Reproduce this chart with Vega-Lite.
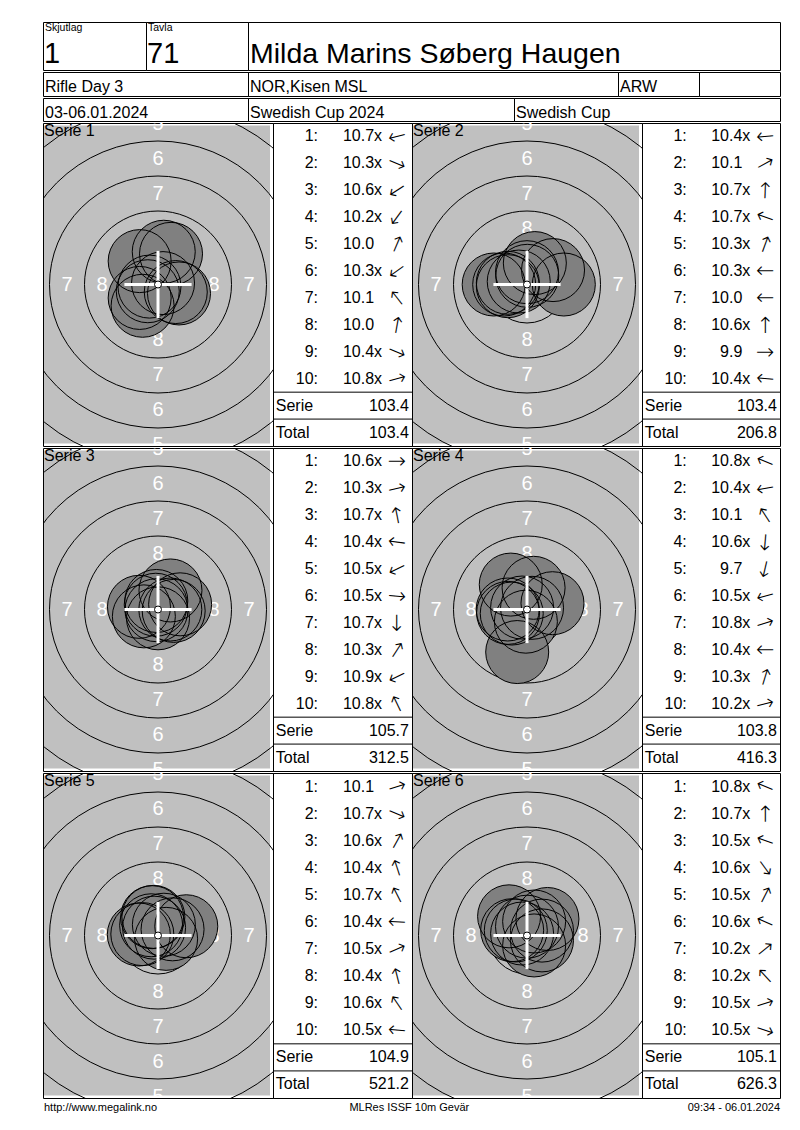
{
  "$schema": "https://vega.github.io/schema/vega-lite/v6.json",
  "description": "MLRes ISSF 10m air rifle result card: six series of ten shots with targets and score lists.",
  "background": "white",
  "padding": {"left": 42, "top": 21, "right": 0, "bottom": 0},
  "config": {
    "font": "Liberation Sans",
    "view": {"stroke": "black", "strokeWidth": 1},
    "axis": {"disable": true},
    "legend": {"disable": true},
    "text": {"color": "black", "font": "Liberation Sans"}
  },
  "datasets": {
    "shots": [
      {"series": 1, "shot": 1, "score": 10.7, "inner": true, "dir": 166, "x": -0.61, "y": -0.15},
      {"series": 1, "shot": 2, "score": 10.3, "inner": true, "dir": 23, "x": 1.5, "y": -0.64},
      {"series": 1, "shot": 3, "score": 10.6, "inner": true, "dir": 147, "x": -0.73, "y": -0.48},
      {"series": 1, "shot": 4, "score": 10.2, "inner": true, "dir": 126, "x": -1.1, "y": -1.52},
      {"series": 1, "shot": 5, "score": 10.0, "inner": false, "dir": 293, "x": 0.93, "y": 2.19},
      {"series": 1, "shot": 6, "score": 10.3, "inner": true, "dir": 144, "x": -1.31, "y": -0.96},
      {"series": 1, "shot": 7, "score": 10.1, "inner": false, "dir": 232, "x": -1.31, "y": 1.67},
      {"series": 1, "shot": 8, "score": 10.0, "inner": false, "dir": 280, "x": 0.41, "y": 2.34},
      {"series": 1, "shot": 9, "score": 10.4, "inner": true, "dir": 23, "x": 1.27, "y": -0.54},
      {"series": 1, "shot": 10, "score": 10.8, "inner": true, "dir": 345, "x": 0.36, "y": 0.1},
      {"series": 2, "shot": 1, "score": 10.4, "inner": true, "dir": 175, "x": -1.37, "y": -0.12},
      {"series": 2, "shot": 2, "score": 10.1, "inner": false, "dir": 331, "x": 1.86, "y": 1.03},
      {"series": 2, "shot": 3, "score": 10.7, "inner": true, "dir": 272, "x": 0.02, "y": 0.62},
      {"series": 2, "shot": 4, "score": 10.7, "inner": true, "dir": 200, "x": -0.59, "y": 0.21},
      {"series": 2, "shot": 5, "score": 10.3, "inner": true, "dir": 290, "x": 0.56, "y": 1.53},
      {"series": 2, "shot": 6, "score": 10.3, "inner": true, "dir": 180, "x": -1.63, "y": 0},
      {"series": 2, "shot": 7, "score": 10.0, "inner": false, "dir": 180, "x": -2.38, "y": 0},
      {"series": 2, "shot": 8, "score": 10.6, "inner": true, "dir": 270, "x": 0, "y": 0.88},
      {"series": 2, "shot": 9, "score": 9.9, "inner": false, "dir": 0, "x": 2.63, "y": 0},
      {"series": 2, "shot": 10, "score": 10.4, "inner": true, "dir": 185, "x": -1.37, "y": 0.12},
      {"series": 3, "shot": 1, "score": 10.6, "inner": true, "dir": 0, "x": 0.88, "y": 0},
      {"series": 3, "shot": 2, "score": 10.3, "inner": true, "dir": 347, "x": 1.58, "y": 0.37},
      {"series": 3, "shot": 3, "score": 10.7, "inner": true, "dir": 259, "x": -0.12, "y": 0.61},
      {"series": 3, "shot": 4, "score": 10.4, "inner": true, "dir": 188, "x": -1.36, "y": 0.19},
      {"series": 3, "shot": 5, "score": 10.5, "inner": true, "dir": 154, "x": -1.01, "y": -0.49},
      {"series": 3, "shot": 6, "score": 10.5, "inner": true, "dir": 5, "x": 1.12, "y": -0.1},
      {"series": 3, "shot": 7, "score": 10.7, "inner": true, "dir": 90, "x": 0, "y": -0.63},
      {"series": 3, "shot": 8, "score": 10.3, "inner": true, "dir": 303, "x": 0.89, "y": 1.36},
      {"series": 3, "shot": 9, "score": 10.9, "inner": true, "dir": 154, "x": -0.11, "y": -0.05},
      {"series": 3, "shot": 10, "score": 10.8, "inner": true, "dir": 244, "x": -0.16, "y": 0.34},
      {"series": 4, "shot": 1, "score": 10.8, "inner": true, "dir": 202, "x": -0.35, "y": 0.14},
      {"series": 4, "shot": 2, "score": 10.4, "inner": true, "dir": 170, "x": -1.35, "y": -0.24},
      {"series": 4, "shot": 3, "score": 10.1, "inner": false, "dir": 237, "x": -1.16, "y": 1.78},
      {"series": 4, "shot": 4, "score": 10.6, "inner": true, "dir": 95, "x": -0.08, "y": -0.87},
      {"series": 4, "shot": 5, "score": 9.7, "inner": false, "dir": 103, "x": -0.7, "y": -3.04},
      {"series": 4, "shot": 6, "score": 10.5, "inner": true, "dir": 165, "x": -1.09, "y": -0.29},
      {"series": 4, "shot": 7, "score": 10.8, "inner": true, "dir": 342, "x": 0.36, "y": 0.12},
      {"series": 4, "shot": 8, "score": 10.4, "inner": true, "dir": 180, "x": -1.38, "y": 0},
      {"series": 4, "shot": 9, "score": 10.3, "inner": true, "dir": 287, "x": 0.47, "y": 1.55},
      {"series": 4, "shot": 10, "score": 10.2, "inner": true, "dir": 346, "x": 1.82, "y": 0.45},
      {"series": 5, "shot": 1, "score": 10.1, "inner": false, "dir": 342, "x": 2.02, "y": 0.66},
      {"series": 5, "shot": 2, "score": 10.7, "inner": true, "dir": 23, "x": 0.58, "y": -0.24},
      {"series": 5, "shot": 3, "score": 10.6, "inner": true, "dir": 299, "x": 0.42, "y": 0.77},
      {"series": 5, "shot": 4, "score": 10.4, "inner": true, "dir": 252, "x": -0.42, "y": 1.31},
      {"series": 5, "shot": 5, "score": 10.7, "inner": true, "dir": 243, "x": -0.28, "y": 0.56},
      {"series": 5, "shot": 6, "score": 10.4, "inner": true, "dir": 183, "x": -1.37, "y": 0.07},
      {"series": 5, "shot": 7, "score": 10.5, "inner": true, "dir": 337, "x": 1.04, "y": 0.44},
      {"series": 5, "shot": 8, "score": 10.4, "inner": true, "dir": 256, "x": -0.33, "y": 1.33},
      {"series": 5, "shot": 9, "score": 10.6, "inner": true, "dir": 236, "x": -0.49, "y": 0.73},
      {"series": 5, "shot": 10, "score": 10.5, "inner": true, "dir": 185, "x": -1.12, "y": 0.1},
      {"series": 6, "shot": 1, "score": 10.8, "inner": true, "dir": 202, "x": -0.35, "y": 0.14},
      {"series": 6, "shot": 2, "score": 10.7, "inner": true, "dir": 270, "x": 0, "y": 0.63},
      {"series": 6, "shot": 3, "score": 10.5, "inner": true, "dir": 200, "x": -1.06, "y": 0.38},
      {"series": 6, "shot": 4, "score": 10.6, "inner": true, "dir": 54, "x": 0.51, "y": -0.71},
      {"series": 6, "shot": 5, "score": 10.5, "inner": true, "dir": 297, "x": 0.51, "y": 1.0},
      {"series": 6, "shot": 6, "score": 10.6, "inner": true, "dir": 204, "x": -0.8, "y": 0.36},
      {"series": 6, "shot": 7, "score": 10.2, "inner": true, "dir": 321, "x": 1.46, "y": 1.18},
      {"series": 6, "shot": 8, "score": 10.2, "inner": true, "dir": 227, "x": -1.28, "y": 1.37},
      {"series": 6, "shot": 9, "score": 10.5, "inner": true, "dir": 342, "x": 1.07, "y": 0.35},
      {"series": 6, "shot": 10, "score": 10.5, "inner": true, "dir": 18, "x": 1.07, "y": -0.35}
    ],
    "totals": [
      {"series": 1, "row": "Serie", "value": 103.4}, {"series": 1, "row": "Total", "value": 103.4},
      {"series": 2, "row": "Serie", "value": 103.4}, {"series": 2, "row": "Total", "value": 206.8},
      {"series": 3, "row": "Serie", "value": 105.7}, {"series": 3, "row": "Total", "value": 312.5},
      {"series": 4, "row": "Serie", "value": 103.8}, {"series": 4, "row": "Total", "value": 416.3},
      {"series": 5, "row": "Serie", "value": 104.9}, {"series": 5, "row": "Total", "value": 521.2},
      {"series": 6, "row": "Serie", "value": 105.1}, {"series": 6, "row": "Total", "value": 626.3}
    ],
    "series": [
      {"series": 1, "name": "Serie 1"}, {"series": 2, "name": "Serie 2"}, {"series": 3, "name": "Serie 3"},
      {"series": 4, "name": "Serie 4"}, {"series": 5, "name": "Serie 5"}, {"series": 6, "name": "Serie 6"}
    ],
    "rings": [
      {"ring": 9, "r": 2.75}, {"ring": 8, "r": 5.25}, {"ring": 7, "r": 7.75},
      {"ring": 6, "r": 10.25}, {"ring": 5, "r": 12.75}, {"ring": 4, "r": 15.25}
    ],
    "ringLabels": [
      {"ring": 8, "x": 0, "y": 4.0}, {"ring": 8, "x": 0, "y": -4.0}, {"ring": 8, "x": -4.0, "y": 0}, {"ring": 8, "x": 4.0, "y": 0},
      {"ring": 7, "x": 0, "y": 6.5}, {"ring": 7, "x": 0, "y": -6.5}, {"ring": 7, "x": -6.5, "y": 0}, {"ring": 7, "x": 6.5, "y": 0},
      {"ring": 6, "x": 0, "y": 9.0}, {"ring": 6, "x": 0, "y": -9.0}, {"ring": 6, "x": -9.0, "y": 0}, {"ring": 6, "x": 9.0, "y": 0},
      {"ring": 5, "x": 0, "y": 11.5}, {"ring": 5, "x": 0, "y": -11.5}, {"ring": 5, "x": -11.5, "y": 0}, {"ring": 5, "x": 11.5, "y": 0}
    ]
  },
  "spacing": 0,
  "vconcat": [
    {
      "spacing": 0,
      "bounds": "flush",
      "hconcat": [
        {
          "width": 103, "height": 48,
          "data": {"values": [{"label": "Skjutlag", "value": "1"}]},
          "layer": [
            {"mark": {"type": "text", "align": "left", "baseline": "alphabetic", "fontSize": 10.5, "dx": 2},
             "encoding": {
               "x": {"datum": 0, "type": "quantitative", "scale": {"domain": [0, 1]}},
               "y": {"datum": 0.808, "type": "quantitative", "scale": {"domain": [0, 1]}},
               "text": {"field": "label"}}},
            {"mark": {"type": "text", "align": "left", "baseline": "alphabetic", "fontSize": 29, "dx": 1},
             "encoding": {
               "x": {"datum": 0, "type": "quantitative"},
               "y": {"datum": 0.142, "type": "quantitative"},
               "text": {"field": "value"}}}
          ]
        },
        {
          "width": 102, "height": 48,
          "data": {"values": [{"label": "Tavla", "value": "71"}]},
          "layer": [
            {"mark": {"type": "text", "align": "left", "baseline": "alphabetic", "fontSize": 10.5, "dx": 2},
             "encoding": {
               "x": {"datum": 0, "type": "quantitative", "scale": {"domain": [0, 1]}},
               "y": {"datum": 0.808, "type": "quantitative", "scale": {"domain": [0, 1]}},
               "text": {"field": "label"}}},
            {"mark": {"type": "text", "align": "left", "baseline": "alphabetic", "fontSize": 29, "dx": 1},
             "encoding": {
               "x": {"datum": 0, "type": "quantitative"},
               "y": {"datum": 0.142, "type": "quantitative"},
               "text": {"field": "value"}}}
          ]
        },
        {
          "width": 532, "height": 48,
          "data": {"values": [{"value": "Milda Marins Søberg Haugen"}]},
          "mark": {"type": "text", "align": "left", "baseline": "alphabetic", "fontSize": 28.5, "dx": 2},
          "encoding": {
            "x": {"datum": 0, "type": "quantitative", "scale": {"domain": [0, 1]}},
            "y": {"datum": 0.142, "type": "quantitative", "scale": {"domain": [0, 1]}},
            "text": {"field": "value"}}
        }
      ]
    },
    {
      "spacing": 0,
      "bounds": "flush",
      "hconcat": [
        {
          "width": 205, "height": 24,
          "data": {"values": [{"value": "Rifle Day 3"}]},
          "mark": {"type": "text", "align": "left", "baseline": "alphabetic", "fontSize": 16, "dx": 2},
          "encoding": {
            "x": {"datum": 0, "type": "quantitative", "scale": {"domain": [0, 1]}},
            "y": {"datum": 0.146, "type": "quantitative", "scale": {"domain": [0, 1]}},
            "text": {"field": "value"}}
        },
        {
          "width": 370, "height": 24,
          "data": {"values": [{"value": "NOR,Kisen MSL"}]},
          "mark": {"type": "text", "align": "left", "baseline": "alphabetic", "fontSize": 16, "dx": 2},
          "encoding": {
            "x": {"datum": 0, "type": "quantitative", "scale": {"domain": [0, 1]}},
            "y": {"datum": 0.146, "type": "quantitative", "scale": {"domain": [0, 1]}},
            "text": {"field": "value"}}
        },
        {
          "width": 81, "height": 24,
          "data": {"values": [{"value": "ARW"}]},
          "mark": {"type": "text", "align": "left", "baseline": "alphabetic", "fontSize": 16, "dx": 2},
          "encoding": {
            "x": {"datum": 0, "type": "quantitative", "scale": {"domain": [0, 1]}},
            "y": {"datum": 0.146, "type": "quantitative", "scale": {"domain": [0, 1]}},
            "text": {"field": "value"}}
        },
        {
          "width": 81, "height": 24,
          "data": {"values": [{"value": ""}]},
          "mark": {"type": "text", "align": "left", "baseline": "alphabetic", "fontSize": 16, "dx": 2},
          "encoding": {
            "x": {"datum": 0, "type": "quantitative", "scale": {"domain": [0, 1]}},
            "y": {"datum": 0.146, "type": "quantitative", "scale": {"domain": [0, 1]}},
            "text": {"field": "value"}}
        }
      ]
    },
    {
      "spacing": 0,
      "bounds": "flush",
      "hconcat": [
        {
          "width": 205, "height": 23,
          "data": {"values": [{"value": "03-06.01.2024"}]},
          "mark": {"type": "text", "align": "left", "baseline": "alphabetic", "fontSize": 16, "dx": 2},
          "encoding": {
            "x": {"datum": 0, "type": "quantitative", "scale": {"domain": [0, 1]}},
            "y": {"datum": 0.139, "type": "quantitative", "scale": {"domain": [0, 1]}},
            "text": {"field": "value"}}
        },
        {
          "width": 266, "height": 23,
          "data": {"values": [{"value": "Swedish Cup 2024"}]},
          "mark": {"type": "text", "align": "left", "baseline": "alphabetic", "fontSize": 16, "dx": 2},
          "encoding": {
            "x": {"datum": 0, "type": "quantitative", "scale": {"domain": [0, 1]}},
            "y": {"datum": 0.139, "type": "quantitative", "scale": {"domain": [0, 1]}},
            "text": {"field": "value"}}
        },
        {
          "width": 266, "height": 23,
          "data": {"values": [{"value": "Swedish Cup"}]},
          "mark": {"type": "text", "align": "left", "baseline": "alphabetic", "fontSize": 16, "dx": 2},
          "encoding": {
            "x": {"datum": 0, "type": "quantitative", "scale": {"domain": [0, 1]}},
            "y": {"datum": 0.139, "type": "quantitative", "scale": {"domain": [0, 1]}},
            "text": {"field": "value"}}
        }
      ]
    },
    {
      "spacing": 0,
      "bounds": "flush",
      "hconcat": [
        {
          "width": 230, "height": 323,
          "layer": [
            {"data": {"values": [{}]}, "mark": {"type": "rect", "color": "#c0c0c0"},
             "encoding": {
               "x": {"datum": -8.14, "type": "quantitative", "scale": {"domain": [-8.214, 8.214], "nice": false, "zero": false}},
               "x2": {"datum": 8.0},
               "y": {"datum": -11.36, "type": "quantitative", "scale": {"domain": [-11.536, 11.536], "nice": false, "zero": false}},
               "y2": {"datum": 11.36}}},
            {"data": {"name": "rings"}, "mark": {"type": "point", "filled": false, "stroke": "black", "strokeWidth": 1, "opacity": 1, "clip": true},
             "encoding": {
               "x": {"datum": 0, "type": "quantitative"},
               "y": {"datum": 0, "type": "quantitative"},
               "size": {"field": "r", "type": "quantitative", "scale": {"type": "pow", "exponent": 2, "domain": [0, 20], "range": [0, 313600]}}}},
            {"data": {"name": "ringLabels"}, "mark": {"type": "text", "color": "white", "fontSize": 20, "baseline": "middle", "clip": true},
             "encoding": {"x": {"field": "x", "type": "quantitative"}, "y": {"field": "y", "type": "quantitative"}, "text": {"field": "ring"}}},
            {"data": {"name": "shots"}, "transform": [{"filter": "datum.series === 1"}],
             "mark": {"type": "point", "filled": true, "color": "#808080", "opacity": 1},
             "encoding": {"x": {"field": "x", "type": "quantitative"}, "y": {"field": "y", "type": "quantitative"}, "size": {"datum": 2.25, "type": "quantitative"}}},
            {"data": {"name": "shots"}, "transform": [{"filter": "datum.series === 1"}],
             "mark": {"type": "point", "filled": false, "stroke": "black", "strokeWidth": 1, "opacity": 1},
             "encoding": {"x": {"field": "x", "type": "quantitative"}, "y": {"field": "y", "type": "quantitative"}, "size": {"datum": 2.25, "type": "quantitative"}}},
            {"data": {"values": [{}]}, "mark": {"type": "rule", "color": "white", "strokeWidth": 3},
             "encoding": {"x": {"datum": -2.4, "type": "quantitative"}, "x2": {"datum": 2.4}, "y": {"datum": 0, "type": "quantitative"}}},
            {"data": {"values": [{}]}, "mark": {"type": "rule", "color": "white", "strokeWidth": 3},
             "encoding": {"x": {"datum": 0, "type": "quantitative"}, "y": {"datum": -2.4, "type": "quantitative"}, "y2": {"datum": 2.4}}},
            {"data": {"values": [{}]}, "mark": {"type": "point", "filled": true, "fill": "white", "stroke": "black", "strokeWidth": 1, "opacity": 1},
             "encoding": {"x": {"datum": 0, "type": "quantitative"}, "y": {"datum": 0, "type": "quantitative"}, "size": {"datum": 0.25, "type": "quantitative"}}},
            {"data": {"name": "series"}, "transform": [{"filter": "datum.series === 1"}],
             "mark": {"type": "text", "align": "left", "baseline": "top", "fontSize": 16, "dx": 1},
             "encoding": {"x": {"datum": -8.214, "type": "quantitative"}, "y": {"datum": 11.536, "type": "quantitative"}, "text": {"field": "name"}}}
          ]
        },
        {
          "width": 139, "height": 323,
          "layer": [
            {"data": {"name": "shots"}, "transform": [{"filter": "datum.series === 1"}],
             "mark": {"type": "text", "align": "right", "baseline": "middle", "fontSize": 16},
             "encoding": {
               "x": {"datum": 0.292, "type": "quantitative", "scale": {"domain": [0, 1], "nice": false, "zero": false}},
               "y": {"field": "shot", "type": "ordinal", "bandPosition": 0.5, "scale": {"type": "band", "domain": [1, 2, 3, 4, 5, 6, 7, 8, 9, 10, "Serie", "Total"], "paddingInner": 0, "paddingOuter": 0}},
               "text": {"field": "shot"}}},
            {"data": {"name": "shots"}, "transform": [{"filter": "datum.series === 1"}],
             "mark": {"type": "text", "align": "right", "baseline": "middle", "fontSize": 16},
             "encoding": {"x": {"datum": 0.324, "type": "quantitative"}, "y": {"field": "shot", "type": "ordinal", "bandPosition": 0.5}, "text": {"value": ":"}}},
            {"data": {"name": "shots"}, "transform": [{"filter": "datum.series === 1"}],
             "mark": {"type": "text", "align": "right", "baseline": "middle", "fontSize": 16},
             "encoding": {"x": {"datum": 0.727, "type": "quantitative"}, "y": {"field": "shot", "type": "ordinal", "bandPosition": 0.5}, "text": {"field": "score", "type": "quantitative", "format": ".1f"}}},
            {"data": {"name": "shots"}, "transform": [{"filter": "datum.series === 1 && datum.inner"}],
             "mark": {"type": "text", "align": "left", "baseline": "middle", "fontSize": 16},
             "encoding": {"x": {"datum": 0.727, "type": "quantitative"}, "y": {"field": "shot", "type": "ordinal", "bandPosition": 0.5}, "text": {"value": "x"}}},
            {"data": {"name": "shots"}, "transform": [{"filter": "datum.series === 1"}],
             "mark": {"type": "text", "align": "center", "baseline": "middle", "fontSize": 22, "font": "DejaVu Sans", "fontWeight": 200},
             "encoding": {"x": {"datum": 0.892, "type": "quantitative"}, "y": {"field": "shot", "type": "ordinal", "bandPosition": 0.5}, "text": {"value": "→"}, "angle": {"field": "dir", "type": "quantitative", "scale": null}}},
            {"data": {"name": "totals"}, "transform": [{"filter": "datum.series === 1"}],
             "mark": {"type": "rule", "color": "black", "strokeWidth": 1},
             "encoding": {"y": {"field": "row", "type": "ordinal", "bandPosition": 0}}},
            {"data": {"name": "totals"}, "transform": [{"filter": "datum.series === 1"}],
             "mark": {"type": "text", "align": "left", "baseline": "middle", "fontSize": 16},
             "encoding": {"x": {"datum": 0.02, "type": "quantitative"}, "y": {"field": "row", "type": "ordinal", "bandPosition": 0.5}, "text": {"field": "row"}}},
            {"data": {"name": "totals"}, "transform": [{"filter": "datum.series === 1"}],
             "mark": {"type": "text", "align": "right", "baseline": "middle", "fontSize": 16},
             "encoding": {"x": {"datum": 0.978, "type": "quantitative"}, "y": {"field": "row", "type": "ordinal", "bandPosition": 0.5}, "text": {"field": "value", "type": "quantitative", "format": ".1f"}}}
          ]
        },
        {
          "width": 230, "height": 323,
          "layer": [
            {"data": {"values": [{}]}, "mark": {"type": "rect", "color": "#c0c0c0"},
             "encoding": {
               "x": {"datum": -8.14, "type": "quantitative", "scale": {"domain": [-8.214, 8.214], "nice": false, "zero": false}},
               "x2": {"datum": 8.0},
               "y": {"datum": -11.36, "type": "quantitative", "scale": {"domain": [-11.536, 11.536], "nice": false, "zero": false}},
               "y2": {"datum": 11.36}}},
            {"data": {"name": "rings"}, "mark": {"type": "point", "filled": false, "stroke": "black", "strokeWidth": 1, "opacity": 1, "clip": true},
             "encoding": {
               "x": {"datum": 0, "type": "quantitative"},
               "y": {"datum": 0, "type": "quantitative"},
               "size": {"field": "r", "type": "quantitative", "scale": {"type": "pow", "exponent": 2, "domain": [0, 20], "range": [0, 313600]}}}},
            {"data": {"name": "ringLabels"}, "mark": {"type": "text", "color": "white", "fontSize": 20, "baseline": "middle", "clip": true},
             "encoding": {"x": {"field": "x", "type": "quantitative"}, "y": {"field": "y", "type": "quantitative"}, "text": {"field": "ring"}}},
            {"data": {"name": "shots"}, "transform": [{"filter": "datum.series === 2"}],
             "mark": {"type": "point", "filled": true, "color": "#808080", "opacity": 1},
             "encoding": {"x": {"field": "x", "type": "quantitative"}, "y": {"field": "y", "type": "quantitative"}, "size": {"datum": 2.25, "type": "quantitative"}}},
            {"data": {"name": "shots"}, "transform": [{"filter": "datum.series === 2"}],
             "mark": {"type": "point", "filled": false, "stroke": "black", "strokeWidth": 1, "opacity": 1},
             "encoding": {"x": {"field": "x", "type": "quantitative"}, "y": {"field": "y", "type": "quantitative"}, "size": {"datum": 2.25, "type": "quantitative"}}},
            {"data": {"values": [{}]}, "mark": {"type": "rule", "color": "white", "strokeWidth": 3},
             "encoding": {"x": {"datum": -2.4, "type": "quantitative"}, "x2": {"datum": 2.4}, "y": {"datum": 0, "type": "quantitative"}}},
            {"data": {"values": [{}]}, "mark": {"type": "rule", "color": "white", "strokeWidth": 3},
             "encoding": {"x": {"datum": 0, "type": "quantitative"}, "y": {"datum": -2.4, "type": "quantitative"}, "y2": {"datum": 2.4}}},
            {"data": {"values": [{}]}, "mark": {"type": "point", "filled": true, "fill": "white", "stroke": "black", "strokeWidth": 1, "opacity": 1},
             "encoding": {"x": {"datum": 0, "type": "quantitative"}, "y": {"datum": 0, "type": "quantitative"}, "size": {"datum": 0.25, "type": "quantitative"}}},
            {"data": {"name": "series"}, "transform": [{"filter": "datum.series === 2"}],
             "mark": {"type": "text", "align": "left", "baseline": "top", "fontSize": 16, "dx": 1},
             "encoding": {"x": {"datum": -8.214, "type": "quantitative"}, "y": {"datum": 11.536, "type": "quantitative"}, "text": {"field": "name"}}}
          ]
        },
        {
          "width": 138, "height": 323,
          "layer": [
            {"data": {"name": "shots"}, "transform": [{"filter": "datum.series === 2"}],
             "mark": {"type": "text", "align": "right", "baseline": "middle", "fontSize": 16},
             "encoding": {
               "x": {"datum": 0.292, "type": "quantitative", "scale": {"domain": [0, 1], "nice": false, "zero": false}},
               "y": {"field": "shot", "type": "ordinal", "bandPosition": 0.5, "scale": {"type": "band", "domain": [1, 2, 3, 4, 5, 6, 7, 8, 9, 10, "Serie", "Total"], "paddingInner": 0, "paddingOuter": 0}},
               "text": {"field": "shot"}}},
            {"data": {"name": "shots"}, "transform": [{"filter": "datum.series === 2"}],
             "mark": {"type": "text", "align": "right", "baseline": "middle", "fontSize": 16},
             "encoding": {"x": {"datum": 0.324, "type": "quantitative"}, "y": {"field": "shot", "type": "ordinal", "bandPosition": 0.5}, "text": {"value": ":"}}},
            {"data": {"name": "shots"}, "transform": [{"filter": "datum.series === 2"}],
             "mark": {"type": "text", "align": "right", "baseline": "middle", "fontSize": 16},
             "encoding": {"x": {"datum": 0.727, "type": "quantitative"}, "y": {"field": "shot", "type": "ordinal", "bandPosition": 0.5}, "text": {"field": "score", "type": "quantitative", "format": ".1f"}}},
            {"data": {"name": "shots"}, "transform": [{"filter": "datum.series === 2 && datum.inner"}],
             "mark": {"type": "text", "align": "left", "baseline": "middle", "fontSize": 16},
             "encoding": {"x": {"datum": 0.727, "type": "quantitative"}, "y": {"field": "shot", "type": "ordinal", "bandPosition": 0.5}, "text": {"value": "x"}}},
            {"data": {"name": "shots"}, "transform": [{"filter": "datum.series === 2"}],
             "mark": {"type": "text", "align": "center", "baseline": "middle", "fontSize": 22, "font": "DejaVu Sans", "fontWeight": 200},
             "encoding": {"x": {"datum": 0.892, "type": "quantitative"}, "y": {"field": "shot", "type": "ordinal", "bandPosition": 0.5}, "text": {"value": "→"}, "angle": {"field": "dir", "type": "quantitative", "scale": null}}},
            {"data": {"name": "totals"}, "transform": [{"filter": "datum.series === 2"}],
             "mark": {"type": "rule", "color": "black", "strokeWidth": 1},
             "encoding": {"y": {"field": "row", "type": "ordinal", "bandPosition": 0}}},
            {"data": {"name": "totals"}, "transform": [{"filter": "datum.series === 2"}],
             "mark": {"type": "text", "align": "left", "baseline": "middle", "fontSize": 16},
             "encoding": {"x": {"datum": 0.02, "type": "quantitative"}, "y": {"field": "row", "type": "ordinal", "bandPosition": 0.5}, "text": {"field": "row"}}},
            {"data": {"name": "totals"}, "transform": [{"filter": "datum.series === 2"}],
             "mark": {"type": "text", "align": "right", "baseline": "middle", "fontSize": 16},
             "encoding": {"x": {"datum": 0.978, "type": "quantitative"}, "y": {"field": "row", "type": "ordinal", "bandPosition": 0.5}, "text": {"field": "value", "type": "quantitative", "format": ".1f"}}}
          ]
        }
      ]
    },
    {
      "spacing": 0,
      "bounds": "flush",
      "hconcat": [
        {
          "width": 230, "height": 323,
          "layer": [
            {"data": {"values": [{}]}, "mark": {"type": "rect", "color": "#c0c0c0"},
             "encoding": {
               "x": {"datum": -8.14, "type": "quantitative", "scale": {"domain": [-8.214, 8.214], "nice": false, "zero": false}},
               "x2": {"datum": 8.0},
               "y": {"datum": -11.36, "type": "quantitative", "scale": {"domain": [-11.536, 11.536], "nice": false, "zero": false}},
               "y2": {"datum": 11.36}}},
            {"data": {"name": "rings"}, "mark": {"type": "point", "filled": false, "stroke": "black", "strokeWidth": 1, "opacity": 1, "clip": true},
             "encoding": {
               "x": {"datum": 0, "type": "quantitative"},
               "y": {"datum": 0, "type": "quantitative"},
               "size": {"field": "r", "type": "quantitative", "scale": {"type": "pow", "exponent": 2, "domain": [0, 20], "range": [0, 313600]}}}},
            {"data": {"name": "ringLabels"}, "mark": {"type": "text", "color": "white", "fontSize": 20, "baseline": "middle", "clip": true},
             "encoding": {"x": {"field": "x", "type": "quantitative"}, "y": {"field": "y", "type": "quantitative"}, "text": {"field": "ring"}}},
            {"data": {"name": "shots"}, "transform": [{"filter": "datum.series === 3"}],
             "mark": {"type": "point", "filled": true, "color": "#808080", "opacity": 1},
             "encoding": {"x": {"field": "x", "type": "quantitative"}, "y": {"field": "y", "type": "quantitative"}, "size": {"datum": 2.25, "type": "quantitative"}}},
            {"data": {"name": "shots"}, "transform": [{"filter": "datum.series === 3"}],
             "mark": {"type": "point", "filled": false, "stroke": "black", "strokeWidth": 1, "opacity": 1},
             "encoding": {"x": {"field": "x", "type": "quantitative"}, "y": {"field": "y", "type": "quantitative"}, "size": {"datum": 2.25, "type": "quantitative"}}},
            {"data": {"values": [{}]}, "mark": {"type": "rule", "color": "white", "strokeWidth": 3},
             "encoding": {"x": {"datum": -2.4, "type": "quantitative"}, "x2": {"datum": 2.4}, "y": {"datum": 0, "type": "quantitative"}}},
            {"data": {"values": [{}]}, "mark": {"type": "rule", "color": "white", "strokeWidth": 3},
             "encoding": {"x": {"datum": 0, "type": "quantitative"}, "y": {"datum": -2.4, "type": "quantitative"}, "y2": {"datum": 2.4}}},
            {"data": {"values": [{}]}, "mark": {"type": "point", "filled": true, "fill": "white", "stroke": "black", "strokeWidth": 1, "opacity": 1},
             "encoding": {"x": {"datum": 0, "type": "quantitative"}, "y": {"datum": 0, "type": "quantitative"}, "size": {"datum": 0.25, "type": "quantitative"}}},
            {"data": {"name": "series"}, "transform": [{"filter": "datum.series === 3"}],
             "mark": {"type": "text", "align": "left", "baseline": "top", "fontSize": 16, "dx": 1},
             "encoding": {"x": {"datum": -8.214, "type": "quantitative"}, "y": {"datum": 11.536, "type": "quantitative"}, "text": {"field": "name"}}}
          ]
        },
        {
          "width": 139, "height": 323,
          "layer": [
            {"data": {"name": "shots"}, "transform": [{"filter": "datum.series === 3"}],
             "mark": {"type": "text", "align": "right", "baseline": "middle", "fontSize": 16},
             "encoding": {
               "x": {"datum": 0.292, "type": "quantitative", "scale": {"domain": [0, 1], "nice": false, "zero": false}},
               "y": {"field": "shot", "type": "ordinal", "bandPosition": 0.5, "scale": {"type": "band", "domain": [1, 2, 3, 4, 5, 6, 7, 8, 9, 10, "Serie", "Total"], "paddingInner": 0, "paddingOuter": 0}},
               "text": {"field": "shot"}}},
            {"data": {"name": "shots"}, "transform": [{"filter": "datum.series === 3"}],
             "mark": {"type": "text", "align": "right", "baseline": "middle", "fontSize": 16},
             "encoding": {"x": {"datum": 0.324, "type": "quantitative"}, "y": {"field": "shot", "type": "ordinal", "bandPosition": 0.5}, "text": {"value": ":"}}},
            {"data": {"name": "shots"}, "transform": [{"filter": "datum.series === 3"}],
             "mark": {"type": "text", "align": "right", "baseline": "middle", "fontSize": 16},
             "encoding": {"x": {"datum": 0.727, "type": "quantitative"}, "y": {"field": "shot", "type": "ordinal", "bandPosition": 0.5}, "text": {"field": "score", "type": "quantitative", "format": ".1f"}}},
            {"data": {"name": "shots"}, "transform": [{"filter": "datum.series === 3 && datum.inner"}],
             "mark": {"type": "text", "align": "left", "baseline": "middle", "fontSize": 16},
             "encoding": {"x": {"datum": 0.727, "type": "quantitative"}, "y": {"field": "shot", "type": "ordinal", "bandPosition": 0.5}, "text": {"value": "x"}}},
            {"data": {"name": "shots"}, "transform": [{"filter": "datum.series === 3"}],
             "mark": {"type": "text", "align": "center", "baseline": "middle", "fontSize": 22, "font": "DejaVu Sans", "fontWeight": 200},
             "encoding": {"x": {"datum": 0.892, "type": "quantitative"}, "y": {"field": "shot", "type": "ordinal", "bandPosition": 0.5}, "text": {"value": "→"}, "angle": {"field": "dir", "type": "quantitative", "scale": null}}},
            {"data": {"name": "totals"}, "transform": [{"filter": "datum.series === 3"}],
             "mark": {"type": "rule", "color": "black", "strokeWidth": 1},
             "encoding": {"y": {"field": "row", "type": "ordinal", "bandPosition": 0}}},
            {"data": {"name": "totals"}, "transform": [{"filter": "datum.series === 3"}],
             "mark": {"type": "text", "align": "left", "baseline": "middle", "fontSize": 16},
             "encoding": {"x": {"datum": 0.02, "type": "quantitative"}, "y": {"field": "row", "type": "ordinal", "bandPosition": 0.5}, "text": {"field": "row"}}},
            {"data": {"name": "totals"}, "transform": [{"filter": "datum.series === 3"}],
             "mark": {"type": "text", "align": "right", "baseline": "middle", "fontSize": 16},
             "encoding": {"x": {"datum": 0.978, "type": "quantitative"}, "y": {"field": "row", "type": "ordinal", "bandPosition": 0.5}, "text": {"field": "value", "type": "quantitative", "format": ".1f"}}}
          ]
        },
        {
          "width": 230, "height": 323,
          "layer": [
            {"data": {"values": [{}]}, "mark": {"type": "rect", "color": "#c0c0c0"},
             "encoding": {
               "x": {"datum": -8.14, "type": "quantitative", "scale": {"domain": [-8.214, 8.214], "nice": false, "zero": false}},
               "x2": {"datum": 8.0},
               "y": {"datum": -11.36, "type": "quantitative", "scale": {"domain": [-11.536, 11.536], "nice": false, "zero": false}},
               "y2": {"datum": 11.36}}},
            {"data": {"name": "rings"}, "mark": {"type": "point", "filled": false, "stroke": "black", "strokeWidth": 1, "opacity": 1, "clip": true},
             "encoding": {
               "x": {"datum": 0, "type": "quantitative"},
               "y": {"datum": 0, "type": "quantitative"},
               "size": {"field": "r", "type": "quantitative", "scale": {"type": "pow", "exponent": 2, "domain": [0, 20], "range": [0, 313600]}}}},
            {"data": {"name": "ringLabels"}, "mark": {"type": "text", "color": "white", "fontSize": 20, "baseline": "middle", "clip": true},
             "encoding": {"x": {"field": "x", "type": "quantitative"}, "y": {"field": "y", "type": "quantitative"}, "text": {"field": "ring"}}},
            {"data": {"name": "shots"}, "transform": [{"filter": "datum.series === 4"}],
             "mark": {"type": "point", "filled": true, "color": "#808080", "opacity": 1},
             "encoding": {"x": {"field": "x", "type": "quantitative"}, "y": {"field": "y", "type": "quantitative"}, "size": {"datum": 2.25, "type": "quantitative"}}},
            {"data": {"name": "shots"}, "transform": [{"filter": "datum.series === 4"}],
             "mark": {"type": "point", "filled": false, "stroke": "black", "strokeWidth": 1, "opacity": 1},
             "encoding": {"x": {"field": "x", "type": "quantitative"}, "y": {"field": "y", "type": "quantitative"}, "size": {"datum": 2.25, "type": "quantitative"}}},
            {"data": {"values": [{}]}, "mark": {"type": "rule", "color": "white", "strokeWidth": 3},
             "encoding": {"x": {"datum": -2.4, "type": "quantitative"}, "x2": {"datum": 2.4}, "y": {"datum": 0, "type": "quantitative"}}},
            {"data": {"values": [{}]}, "mark": {"type": "rule", "color": "white", "strokeWidth": 3},
             "encoding": {"x": {"datum": 0, "type": "quantitative"}, "y": {"datum": -2.4, "type": "quantitative"}, "y2": {"datum": 2.4}}},
            {"data": {"values": [{}]}, "mark": {"type": "point", "filled": true, "fill": "white", "stroke": "black", "strokeWidth": 1, "opacity": 1},
             "encoding": {"x": {"datum": 0, "type": "quantitative"}, "y": {"datum": 0, "type": "quantitative"}, "size": {"datum": 0.25, "type": "quantitative"}}},
            {"data": {"name": "series"}, "transform": [{"filter": "datum.series === 4"}],
             "mark": {"type": "text", "align": "left", "baseline": "top", "fontSize": 16, "dx": 1},
             "encoding": {"x": {"datum": -8.214, "type": "quantitative"}, "y": {"datum": 11.536, "type": "quantitative"}, "text": {"field": "name"}}}
          ]
        },
        {
          "width": 138, "height": 323,
          "layer": [
            {"data": {"name": "shots"}, "transform": [{"filter": "datum.series === 4"}],
             "mark": {"type": "text", "align": "right", "baseline": "middle", "fontSize": 16},
             "encoding": {
               "x": {"datum": 0.292, "type": "quantitative", "scale": {"domain": [0, 1], "nice": false, "zero": false}},
               "y": {"field": "shot", "type": "ordinal", "bandPosition": 0.5, "scale": {"type": "band", "domain": [1, 2, 3, 4, 5, 6, 7, 8, 9, 10, "Serie", "Total"], "paddingInner": 0, "paddingOuter": 0}},
               "text": {"field": "shot"}}},
            {"data": {"name": "shots"}, "transform": [{"filter": "datum.series === 4"}],
             "mark": {"type": "text", "align": "right", "baseline": "middle", "fontSize": 16},
             "encoding": {"x": {"datum": 0.324, "type": "quantitative"}, "y": {"field": "shot", "type": "ordinal", "bandPosition": 0.5}, "text": {"value": ":"}}},
            {"data": {"name": "shots"}, "transform": [{"filter": "datum.series === 4"}],
             "mark": {"type": "text", "align": "right", "baseline": "middle", "fontSize": 16},
             "encoding": {"x": {"datum": 0.727, "type": "quantitative"}, "y": {"field": "shot", "type": "ordinal", "bandPosition": 0.5}, "text": {"field": "score", "type": "quantitative", "format": ".1f"}}},
            {"data": {"name": "shots"}, "transform": [{"filter": "datum.series === 4 && datum.inner"}],
             "mark": {"type": "text", "align": "left", "baseline": "middle", "fontSize": 16},
             "encoding": {"x": {"datum": 0.727, "type": "quantitative"}, "y": {"field": "shot", "type": "ordinal", "bandPosition": 0.5}, "text": {"value": "x"}}},
            {"data": {"name": "shots"}, "transform": [{"filter": "datum.series === 4"}],
             "mark": {"type": "text", "align": "center", "baseline": "middle", "fontSize": 22, "font": "DejaVu Sans", "fontWeight": 200},
             "encoding": {"x": {"datum": 0.892, "type": "quantitative"}, "y": {"field": "shot", "type": "ordinal", "bandPosition": 0.5}, "text": {"value": "→"}, "angle": {"field": "dir", "type": "quantitative", "scale": null}}},
            {"data": {"name": "totals"}, "transform": [{"filter": "datum.series === 4"}],
             "mark": {"type": "rule", "color": "black", "strokeWidth": 1},
             "encoding": {"y": {"field": "row", "type": "ordinal", "bandPosition": 0}}},
            {"data": {"name": "totals"}, "transform": [{"filter": "datum.series === 4"}],
             "mark": {"type": "text", "align": "left", "baseline": "middle", "fontSize": 16},
             "encoding": {"x": {"datum": 0.02, "type": "quantitative"}, "y": {"field": "row", "type": "ordinal", "bandPosition": 0.5}, "text": {"field": "row"}}},
            {"data": {"name": "totals"}, "transform": [{"filter": "datum.series === 4"}],
             "mark": {"type": "text", "align": "right", "baseline": "middle", "fontSize": 16},
             "encoding": {"x": {"datum": 0.978, "type": "quantitative"}, "y": {"field": "row", "type": "ordinal", "bandPosition": 0.5}, "text": {"field": "value", "type": "quantitative", "format": ".1f"}}}
          ]
        }
      ]
    },
    {
      "spacing": 0,
      "bounds": "flush",
      "hconcat": [
        {
          "width": 230, "height": 325,
          "layer": [
            {"data": {"values": [{}]}, "mark": {"type": "rect", "color": "#c0c0c0"},
             "encoding": {
               "x": {"datum": -8.14, "type": "quantitative", "scale": {"domain": [-8.214, 8.214], "nice": false, "zero": false}},
               "x2": {"datum": 8.0},
               "y": {"datum": -11.43, "type": "quantitative", "scale": {"domain": [-11.607, 11.607], "nice": false, "zero": false}},
               "y2": {"datum": 11.43}}},
            {"data": {"name": "rings"}, "mark": {"type": "point", "filled": false, "stroke": "black", "strokeWidth": 1, "opacity": 1, "clip": true},
             "encoding": {
               "x": {"datum": 0, "type": "quantitative"},
               "y": {"datum": 0, "type": "quantitative"},
               "size": {"field": "r", "type": "quantitative", "scale": {"type": "pow", "exponent": 2, "domain": [0, 20], "range": [0, 313600]}}}},
            {"data": {"name": "ringLabels"}, "mark": {"type": "text", "color": "white", "fontSize": 20, "baseline": "middle", "clip": true},
             "encoding": {"x": {"field": "x", "type": "quantitative"}, "y": {"field": "y", "type": "quantitative"}, "text": {"field": "ring"}}},
            {"data": {"name": "shots"}, "transform": [{"filter": "datum.series === 5"}],
             "mark": {"type": "point", "filled": true, "color": "#808080", "opacity": 1},
             "encoding": {"x": {"field": "x", "type": "quantitative"}, "y": {"field": "y", "type": "quantitative"}, "size": {"datum": 2.25, "type": "quantitative"}}},
            {"data": {"name": "shots"}, "transform": [{"filter": "datum.series === 5"}],
             "mark": {"type": "point", "filled": false, "stroke": "black", "strokeWidth": 1, "opacity": 1},
             "encoding": {"x": {"field": "x", "type": "quantitative"}, "y": {"field": "y", "type": "quantitative"}, "size": {"datum": 2.25, "type": "quantitative"}}},
            {"data": {"values": [{}]}, "mark": {"type": "rule", "color": "white", "strokeWidth": 3},
             "encoding": {"x": {"datum": -2.4, "type": "quantitative"}, "x2": {"datum": 2.4}, "y": {"datum": 0, "type": "quantitative"}}},
            {"data": {"values": [{}]}, "mark": {"type": "rule", "color": "white", "strokeWidth": 3},
             "encoding": {"x": {"datum": 0, "type": "quantitative"}, "y": {"datum": -2.4, "type": "quantitative"}, "y2": {"datum": 2.4}}},
            {"data": {"values": [{}]}, "mark": {"type": "point", "filled": true, "fill": "white", "stroke": "black", "strokeWidth": 1, "opacity": 1},
             "encoding": {"x": {"datum": 0, "type": "quantitative"}, "y": {"datum": 0, "type": "quantitative"}, "size": {"datum": 0.25, "type": "quantitative"}}},
            {"data": {"name": "series"}, "transform": [{"filter": "datum.series === 5"}],
             "mark": {"type": "text", "align": "left", "baseline": "top", "fontSize": 16, "dx": 1},
             "encoding": {"x": {"datum": -8.214, "type": "quantitative"}, "y": {"datum": 11.607, "type": "quantitative"}, "text": {"field": "name"}}}
          ]
        },
        {
          "width": 139, "height": 325,
          "layer": [
            {"data": {"name": "shots"}, "transform": [{"filter": "datum.series === 5"}],
             "mark": {"type": "text", "align": "right", "baseline": "middle", "fontSize": 16},
             "encoding": {
               "x": {"datum": 0.292, "type": "quantitative", "scale": {"domain": [0, 1], "nice": false, "zero": false}},
               "y": {"field": "shot", "type": "ordinal", "bandPosition": 0.5, "scale": {"type": "band", "domain": [1, 2, 3, 4, 5, 6, 7, 8, 9, 10, "Serie", "Total"], "paddingInner": 0, "paddingOuter": 0}},
               "text": {"field": "shot"}}},
            {"data": {"name": "shots"}, "transform": [{"filter": "datum.series === 5"}],
             "mark": {"type": "text", "align": "right", "baseline": "middle", "fontSize": 16},
             "encoding": {"x": {"datum": 0.324, "type": "quantitative"}, "y": {"field": "shot", "type": "ordinal", "bandPosition": 0.5}, "text": {"value": ":"}}},
            {"data": {"name": "shots"}, "transform": [{"filter": "datum.series === 5"}],
             "mark": {"type": "text", "align": "right", "baseline": "middle", "fontSize": 16},
             "encoding": {"x": {"datum": 0.727, "type": "quantitative"}, "y": {"field": "shot", "type": "ordinal", "bandPosition": 0.5}, "text": {"field": "score", "type": "quantitative", "format": ".1f"}}},
            {"data": {"name": "shots"}, "transform": [{"filter": "datum.series === 5 && datum.inner"}],
             "mark": {"type": "text", "align": "left", "baseline": "middle", "fontSize": 16},
             "encoding": {"x": {"datum": 0.727, "type": "quantitative"}, "y": {"field": "shot", "type": "ordinal", "bandPosition": 0.5}, "text": {"value": "x"}}},
            {"data": {"name": "shots"}, "transform": [{"filter": "datum.series === 5"}],
             "mark": {"type": "text", "align": "center", "baseline": "middle", "fontSize": 22, "font": "DejaVu Sans", "fontWeight": 200},
             "encoding": {"x": {"datum": 0.892, "type": "quantitative"}, "y": {"field": "shot", "type": "ordinal", "bandPosition": 0.5}, "text": {"value": "→"}, "angle": {"field": "dir", "type": "quantitative", "scale": null}}},
            {"data": {"name": "totals"}, "transform": [{"filter": "datum.series === 5"}],
             "mark": {"type": "rule", "color": "black", "strokeWidth": 1},
             "encoding": {"y": {"field": "row", "type": "ordinal", "bandPosition": 0}}},
            {"data": {"name": "totals"}, "transform": [{"filter": "datum.series === 5"}],
             "mark": {"type": "text", "align": "left", "baseline": "middle", "fontSize": 16},
             "encoding": {"x": {"datum": 0.02, "type": "quantitative"}, "y": {"field": "row", "type": "ordinal", "bandPosition": 0.5}, "text": {"field": "row"}}},
            {"data": {"name": "totals"}, "transform": [{"filter": "datum.series === 5"}],
             "mark": {"type": "text", "align": "right", "baseline": "middle", "fontSize": 16},
             "encoding": {"x": {"datum": 0.978, "type": "quantitative"}, "y": {"field": "row", "type": "ordinal", "bandPosition": 0.5}, "text": {"field": "value", "type": "quantitative", "format": ".1f"}}}
          ]
        },
        {
          "width": 230, "height": 325,
          "layer": [
            {"data": {"values": [{}]}, "mark": {"type": "rect", "color": "#c0c0c0"},
             "encoding": {
               "x": {"datum": -8.14, "type": "quantitative", "scale": {"domain": [-8.214, 8.214], "nice": false, "zero": false}},
               "x2": {"datum": 8.0},
               "y": {"datum": -11.43, "type": "quantitative", "scale": {"domain": [-11.607, 11.607], "nice": false, "zero": false}},
               "y2": {"datum": 11.43}}},
            {"data": {"name": "rings"}, "mark": {"type": "point", "filled": false, "stroke": "black", "strokeWidth": 1, "opacity": 1, "clip": true},
             "encoding": {
               "x": {"datum": 0, "type": "quantitative"},
               "y": {"datum": 0, "type": "quantitative"},
               "size": {"field": "r", "type": "quantitative", "scale": {"type": "pow", "exponent": 2, "domain": [0, 20], "range": [0, 313600]}}}},
            {"data": {"name": "ringLabels"}, "mark": {"type": "text", "color": "white", "fontSize": 20, "baseline": "middle", "clip": true},
             "encoding": {"x": {"field": "x", "type": "quantitative"}, "y": {"field": "y", "type": "quantitative"}, "text": {"field": "ring"}}},
            {"data": {"name": "shots"}, "transform": [{"filter": "datum.series === 6"}],
             "mark": {"type": "point", "filled": true, "color": "#808080", "opacity": 1},
             "encoding": {"x": {"field": "x", "type": "quantitative"}, "y": {"field": "y", "type": "quantitative"}, "size": {"datum": 2.25, "type": "quantitative"}}},
            {"data": {"name": "shots"}, "transform": [{"filter": "datum.series === 6"}],
             "mark": {"type": "point", "filled": false, "stroke": "black", "strokeWidth": 1, "opacity": 1},
             "encoding": {"x": {"field": "x", "type": "quantitative"}, "y": {"field": "y", "type": "quantitative"}, "size": {"datum": 2.25, "type": "quantitative"}}},
            {"data": {"values": [{}]}, "mark": {"type": "rule", "color": "white", "strokeWidth": 3},
             "encoding": {"x": {"datum": -2.4, "type": "quantitative"}, "x2": {"datum": 2.4}, "y": {"datum": 0, "type": "quantitative"}}},
            {"data": {"values": [{}]}, "mark": {"type": "rule", "color": "white", "strokeWidth": 3},
             "encoding": {"x": {"datum": 0, "type": "quantitative"}, "y": {"datum": -2.4, "type": "quantitative"}, "y2": {"datum": 2.4}}},
            {"data": {"values": [{}]}, "mark": {"type": "point", "filled": true, "fill": "white", "stroke": "black", "strokeWidth": 1, "opacity": 1},
             "encoding": {"x": {"datum": 0, "type": "quantitative"}, "y": {"datum": 0, "type": "quantitative"}, "size": {"datum": 0.25, "type": "quantitative"}}},
            {"data": {"name": "series"}, "transform": [{"filter": "datum.series === 6"}],
             "mark": {"type": "text", "align": "left", "baseline": "top", "fontSize": 16, "dx": 1},
             "encoding": {"x": {"datum": -8.214, "type": "quantitative"}, "y": {"datum": 11.607, "type": "quantitative"}, "text": {"field": "name"}}}
          ]
        },
        {
          "width": 138, "height": 325,
          "layer": [
            {"data": {"name": "shots"}, "transform": [{"filter": "datum.series === 6"}],
             "mark": {"type": "text", "align": "right", "baseline": "middle", "fontSize": 16},
             "encoding": {
               "x": {"datum": 0.292, "type": "quantitative", "scale": {"domain": [0, 1], "nice": false, "zero": false}},
               "y": {"field": "shot", "type": "ordinal", "bandPosition": 0.5, "scale": {"type": "band", "domain": [1, 2, 3, 4, 5, 6, 7, 8, 9, 10, "Serie", "Total"], "paddingInner": 0, "paddingOuter": 0}},
               "text": {"field": "shot"}}},
            {"data": {"name": "shots"}, "transform": [{"filter": "datum.series === 6"}],
             "mark": {"type": "text", "align": "right", "baseline": "middle", "fontSize": 16},
             "encoding": {"x": {"datum": 0.324, "type": "quantitative"}, "y": {"field": "shot", "type": "ordinal", "bandPosition": 0.5}, "text": {"value": ":"}}},
            {"data": {"name": "shots"}, "transform": [{"filter": "datum.series === 6"}],
             "mark": {"type": "text", "align": "right", "baseline": "middle", "fontSize": 16},
             "encoding": {"x": {"datum": 0.727, "type": "quantitative"}, "y": {"field": "shot", "type": "ordinal", "bandPosition": 0.5}, "text": {"field": "score", "type": "quantitative", "format": ".1f"}}},
            {"data": {"name": "shots"}, "transform": [{"filter": "datum.series === 6 && datum.inner"}],
             "mark": {"type": "text", "align": "left", "baseline": "middle", "fontSize": 16},
             "encoding": {"x": {"datum": 0.727, "type": "quantitative"}, "y": {"field": "shot", "type": "ordinal", "bandPosition": 0.5}, "text": {"value": "x"}}},
            {"data": {"name": "shots"}, "transform": [{"filter": "datum.series === 6"}],
             "mark": {"type": "text", "align": "center", "baseline": "middle", "fontSize": 22, "font": "DejaVu Sans", "fontWeight": 200},
             "encoding": {"x": {"datum": 0.892, "type": "quantitative"}, "y": {"field": "shot", "type": "ordinal", "bandPosition": 0.5}, "text": {"value": "→"}, "angle": {"field": "dir", "type": "quantitative", "scale": null}}},
            {"data": {"name": "totals"}, "transform": [{"filter": "datum.series === 6"}],
             "mark": {"type": "rule", "color": "black", "strokeWidth": 1},
             "encoding": {"y": {"field": "row", "type": "ordinal", "bandPosition": 0}}},
            {"data": {"name": "totals"}, "transform": [{"filter": "datum.series === 6"}],
             "mark": {"type": "text", "align": "left", "baseline": "middle", "fontSize": 16},
             "encoding": {"x": {"datum": 0.02, "type": "quantitative"}, "y": {"field": "row", "type": "ordinal", "bandPosition": 0.5}, "text": {"field": "row"}}},
            {"data": {"name": "totals"}, "transform": [{"filter": "datum.series === 6"}],
             "mark": {"type": "text", "align": "right", "baseline": "middle", "fontSize": 16},
             "encoding": {"x": {"datum": 0.978, "type": "quantitative"}, "y": {"field": "row", "type": "ordinal", "bandPosition": 0.5}, "text": {"field": "value", "type": "quantitative", "format": ".1f"}}}
          ]
        }
      ]
    },
    {
      "width": 737, "height": 18,
      "view": {"stroke": null},
      "data": {"values": [{"left": "http://www.megalink.no", "center": "MLRes ISSF 10m Gevär", "right": "09:34 - 06.01.2024"}]},
      "layer": [
        {"mark": {"type": "text", "align": "left", "baseline": "middle", "fontSize": 11, "dx": 1},
         "encoding": {
           "x": {"datum": 0, "type": "quantitative", "scale": {"domain": [0, 1]}},
           "y": {"datum": 0.5, "type": "quantitative", "scale": {"domain": [0, 1]}},
           "text": {"field": "left"}}},
        {"mark": {"type": "text", "align": "center", "baseline": "middle", "fontSize": 11},
         "encoding": {"x": {"datum": 0.497, "type": "quantitative"}, "y": {"datum": 0.5, "type": "quantitative"}, "text": {"field": "center"}}},
        {"mark": {"type": "text", "align": "right", "baseline": "middle", "fontSize": 11},
         "encoding": {"x": {"datum": 1, "type": "quantitative"}, "y": {"datum": 0.5, "type": "quantitative"}, "text": {"field": "right"}}}
      ]
    }
  ]
}
